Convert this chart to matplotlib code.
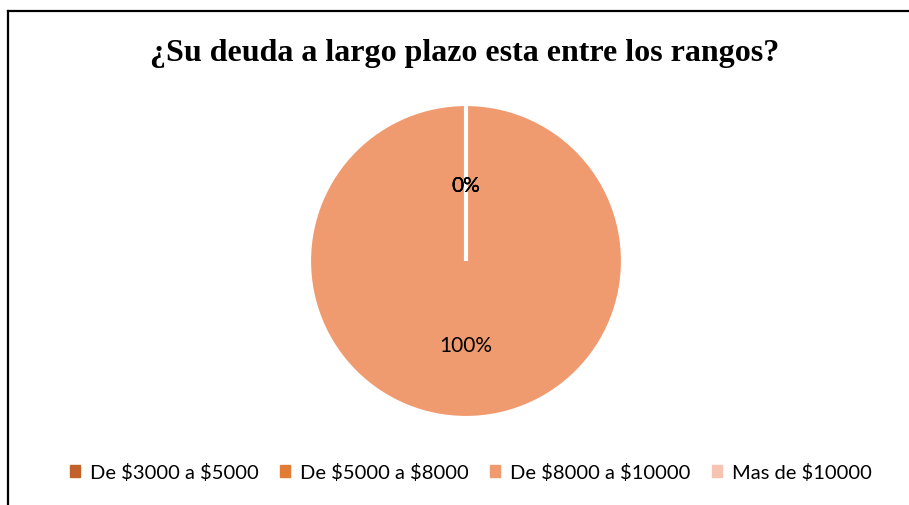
import matplotlib.pyplot as plt
from matplotlib.lines import Line2D

plt.rcParams['text.parse_math'] = False

# datos
rangos = ['De $3000 a $5000', 'De $5000 a $8000', 'De $8000 a $10000', 'Mas de $10000']
valores = [0, 0, 100, 0]
colores = ['#C2622A', '#E27B33', '#F09A6F', '#F6C4B0']
titulo = '¿Su deuda a largo plazo esta entre los rangos?'

W, H = 909, 506
fig = plt.figure(figsize=(W / 100, H / 100), dpi=100)
fig.patch.set_facecolor('white')

# marco (solo arriba e izquierda visibles)
fig.add_artist(Line2D([8 / W, 1.0], [1 - 12 / H, 1 - 12 / H], color='black', lw=1.6,
                      transform=fig.transFigure))
fig.add_artist(Line2D([8 / W, 8 / W], [0.0, 1 - 12 / H], color='black', lw=1.6,
                      transform=fig.transFigure))

fig.text(465 / W, 1 - 53 / H, titulo, ha='center', va='center',
         fontsize=23, fontweight='bold', family='Liberation Serif')

# pie: centro ~ (466, 262), radio ~157 px
r = 157
ax = fig.add_axes([(466 - r) / W, 1 - (262 + r) / H, 2 * r / W, 2 * r / H])
wedges, textos, autotextos = ax.pie(
    valores, colors=colores, startangle=90, counterclock=False,
    autopct='%1.0f%%', pctdistance=0.51,
    wedgeprops=dict(edgecolor='white', linewidth=3),
    textprops=dict(fontsize=15, family='Lato', color='black'))
# etiquetas un poco mas abajo, como en el original
for t in autotextos:
    x, y = t.get_position()
    t.set_position((x, y - 0.025))
ax.set_aspect('equal')
ax.set_xlim(-1, 1)
ax.set_ylim(-1, 1)

handles = [plt.Rectangle((0, 0), 1, 1, color=c) for c in colores]
fig.legend(handles, rangos, loc='center', bbox_to_anchor=(471 / W, 1 - 473 / H),
           ncol=4, frameon=False, prop=dict(family='Lato', size=14.5),
           handlelength=0.5, handleheight=0.5, handletextpad=0.5, columnspacing=1.05)

fig.savefig('out.png', dpi=100)
